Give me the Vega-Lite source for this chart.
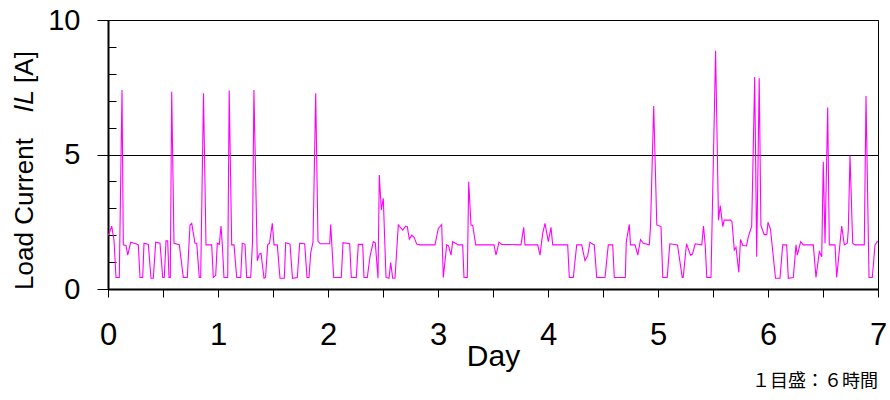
{
  "$schema": "https://vega.github.io/schema/vega-lite/v6.json",
  "width": 770,
  "height": 269,
  "autosize": {"type": "none"},
  "padding": {"left": 108, "top": 20, "right": 12, "bottom": 111},
  "background": "white",
  "config": {
    "view": {"stroke": "black", "strokeWidth": 1},
    "font": "Liberation Sans",
    "axis": {"domainColor": "black", "tickColor": "black", "labelColor": "black", "titleColor": "black", "labelFont": "Liberation Sans", "titleFont": "Liberation Sans", "titleFontWeight": "normal"}
  },
  "title": {"text": "１目盛：６時間", "orient": "bottom", "anchor": "end", "frame": "group", "font": "Noto Sans CJK JP", "fontSize": 18, "fontWeight": "normal", "color": "black", "offset": 2},
  "data": {"values": [
    {"day": 0, "current": 2.0}, {"day": 0.0118, "current": 2.07}, {"day": 0.0336, "current": 2.34}, {"day": 0.0545, "current": 1.82},
    {"day": 0.0727, "current": 0.43}, {"day": 0.1027, "current": 0.43}, {"day": 0.1273, "current": 7.4}, {"day": 0.1391, "current": 1.64},
    {"day": 0.1636, "current": 1.62}, {"day": 0.1791, "current": 1.26}, {"day": 0.2064, "current": 1.74}, {"day": 0.2609, "current": 1.67},
    {"day": 0.2755, "current": 1.64}, {"day": 0.2909, "current": 0.43}, {"day": 0.3155, "current": 0.43}, {"day": 0.3273, "current": 1.7},
    {"day": 0.3664, "current": 1.66}, {"day": 0.3909, "current": 0.4}, {"day": 0.4118, "current": 0.4}, {"day": 0.4336, "current": 1.74},
    {"day": 0.4727, "current": 1.7}, {"day": 0.4973, "current": 0.43}, {"day": 0.5118, "current": 0.43}, {"day": 0.5273, "current": 1.79},
    {"day": 0.5427, "current": 1.79}, {"day": 0.5545, "current": 0.43}, {"day": 0.5664, "current": 0.43}, {"day": 0.5791, "current": 7.33},
    {"day": 0.6, "current": 1.7}, {"day": 0.6482, "current": 1.65}, {"day": 0.6845, "current": 0.43}, {"day": 0.7209, "current": 0.43},
    {"day": 0.7455, "current": 2.38}, {"day": 0.7609, "current": 2.44}, {"day": 0.7909, "current": 1.7}, {"day": 0.8064, "current": 1.7},
    {"day": 0.83, "current": 0.43}, {"day": 0.8427, "current": 0.43}, {"day": 0.8682, "current": 7.28}, {"day": 0.8909, "current": 1.64},
    {"day": 0.9427, "current": 1.64}, {"day": 0.9573, "current": 0.43}, {"day": 0.9791, "current": 0.5}, {"day": 0.9936, "current": 1.7},
    {"day": 1.0118, "current": 1.66}, {"day": 1.0273, "current": 2.34}, {"day": 1.0391, "current": 1.66}, {"day": 1.0545, "current": 0.43},
    {"day": 1.0882, "current": 0.43}, {"day": 1.1018, "current": 7.38}, {"day": 1.1245, "current": 1.64}, {"day": 1.1455, "current": 1.64},
    {"day": 1.17, "current": 0.43}, {"day": 1.2064, "current": 0.43}, {"day": 1.2209, "current": 1.7}, {"day": 1.2455, "current": 1.66},
    {"day": 1.2609, "current": 0.43}, {"day": 1.2973, "current": 0.43}, {"day": 1.3136, "current": 1.72}, {"day": 1.3264, "current": 7.4},
    {"day": 1.3573, "current": 1.05}, {"day": 1.3755, "current": 1.3}, {"day": 1.3909, "current": 1.33}, {"day": 1.4182, "current": 0.4},
    {"day": 1.4318, "current": 0.43}, {"day": 1.4518, "current": 1.64}, {"day": 1.4682, "current": 1.7}, {"day": 1.4936, "current": 2.44},
    {"day": 1.5091, "current": 1.64}, {"day": 1.5391, "current": 1.64}, {"day": 1.5636, "current": 0.4}, {"day": 1.6027, "current": 0.4},
    {"day": 1.6155, "current": 1.72}, {"day": 1.6545, "current": 1.67}, {"day": 1.6773, "current": 0.4}, {"day": 1.7209, "current": 0.43},
    {"day": 1.7427, "current": 1.7}, {"day": 1.7882, "current": 1.68}, {"day": 1.8091, "current": 0.43}, {"day": 1.8273, "current": 0.43},
    {"day": 1.8427, "current": 1.34}, {"day": 1.8636, "current": 1.75}, {"day": 1.8882, "current": 7.28}, {"day": 1.9091, "current": 1.77},
    {"day": 1.93, "current": 1.68}, {"day": 2.0155, "current": 1.68}, {"day": 2.0245, "current": 2.4}, {"day": 2.0518, "current": 0.43},
    {"day": 2.1209, "current": 0.43}, {"day": 2.1364, "current": 1.72}, {"day": 2.1973, "current": 1.68}, {"day": 2.2118, "current": 0.43},
    {"day": 2.2573, "current": 0.43}, {"day": 2.2755, "current": 1.66}, {"day": 2.3155, "current": 1.66}, {"day": 2.3273, "current": 0.43},
    {"day": 2.3573, "current": 0.43}, {"day": 2.3818, "current": 1.2}, {"day": 2.4118, "current": 1.76}, {"day": 2.43, "current": 1.72},
    {"day": 2.4545, "current": 0.4}, {"day": 2.4664, "current": 4.24}, {"day": 2.4845, "current": 2.94}, {"day": 2.5027, "current": 3.37},
    {"day": 2.5273, "current": 0.43}, {"day": 2.5545, "current": 0.4}, {"day": 2.57, "current": 0.98}, {"day": 2.5882, "current": 0.4},
    {"day": 2.6091, "current": 0.4}, {"day": 2.6391, "current": 2.38}, {"day": 2.6791, "current": 2.19}, {"day": 2.7064, "current": 2.34},
    {"day": 2.7209, "current": 2.32}, {"day": 2.7391, "current": 1.85}, {"day": 2.7609, "current": 2.0}, {"day": 2.7818, "current": 1.93},
    {"day": 2.8064, "current": 1.67}, {"day": 2.8364, "current": 1.64}, {"day": 2.9727, "current": 1.64}, {"day": 3.0027, "current": 2.25},
    {"day": 3.0336, "current": 2.39}, {"day": 3.0482, "current": 0.43}, {"day": 3.0791, "current": 1.64}, {"day": 3.0955, "current": 1.6},
    {"day": 3.1182, "current": 1.26}, {"day": 3.1336, "current": 1.76}, {"day": 3.1591, "current": 1.7}, {"day": 3.1845, "current": 1.64},
    {"day": 3.2245, "current": 1.64}, {"day": 3.2364, "current": 0.43}, {"day": 3.2664, "current": 0.43}, {"day": 3.2791, "current": 3.99},
    {"day": 3.3, "current": 2.38}, {"day": 3.3155, "current": 2.36}, {"day": 3.3427, "current": 1.64}, {"day": 3.5091, "current": 1.64},
    {"day": 3.5273, "current": 1.26}, {"day": 3.5545, "current": 1.74}, {"day": 3.5791, "current": 1.66}, {"day": 3.7545, "current": 1.64},
    {"day": 3.7791, "current": 2.29}, {"day": 3.7909, "current": 1.64}, {"day": 3.9064, "current": 1.64}, {"day": 3.9273, "current": 1.26},
    {"day": 3.9518, "current": 2.07}, {"day": 3.9727, "current": 2.44}, {"day": 4.0027, "current": 1.76}, {"day": 4.0273, "current": 2.29},
    {"day": 4.0427, "current": 1.64}, {"day": 4.1791, "current": 1.64}, {"day": 4.1936, "current": 0.43}, {"day": 4.23, "current": 0.43},
    {"day": 4.2609, "current": 1.64}, {"day": 4.3064, "current": 1.64}, {"day": 4.3364, "current": 1.05}, {"day": 4.3609, "current": 1.24},
    {"day": 4.3818, "current": 1.74}, {"day": 4.4, "current": 1.68}, {"day": 4.4209, "current": 1.64}, {"day": 4.4427, "current": 0.43},
    {"day": 4.5182, "current": 0.43}, {"day": 4.5482, "current": 1.64}, {"day": 4.5882, "current": 1.64}, {"day": 4.6027, "current": 0.43},
    {"day": 4.7027, "current": 0.43}, {"day": 4.7118, "current": 1.76}, {"day": 4.7391, "current": 2.4}, {"day": 4.75, "current": 1.64},
    {"day": 4.7909, "current": 1.64}, {"day": 4.8164, "current": 1.26}, {"day": 4.8409, "current": 1.84}, {"day": 4.8664, "current": 1.7},
    {"day": 4.9209, "current": 1.64}, {"day": 4.9318, "current": 2.3}, {"day": 4.9609, "current": 6.8}, {"day": 4.9891, "current": 2.38},
    {"day": 5.0273, "current": 2.32}, {"day": 5.0436, "current": 0.43}, {"day": 5.0836, "current": 0.43}, {"day": 5.1073, "current": 1.68},
    {"day": 5.1773, "current": 1.64}, {"day": 5.22, "current": 0.43}, {"day": 5.2291, "current": 0.43}, {"day": 5.2591, "current": 1.68},
    {"day": 5.2955, "current": 1.26}, {"day": 5.3136, "current": 1.3}, {"day": 5.3382, "current": 1.68}, {"day": 5.3982, "current": 1.64},
    {"day": 5.4136, "current": 2.34}, {"day": 5.4291, "current": 1.64}, {"day": 5.4436, "current": 0.43}, {"day": 5.4818, "current": 0.43},
    {"day": 5.5236, "current": 8.86}, {"day": 5.55, "current": 2.56}, {"day": 5.5655, "current": 3.1}, {"day": 5.5891, "current": 2.32},
    {"day": 5.6018, "current": 2.56}, {"day": 5.6591, "current": 2.56}, {"day": 5.6727, "current": 2.5}, {"day": 5.6936, "current": 1.45},
    {"day": 5.7091, "current": 1.55}, {"day": 5.7345, "current": 0.62}, {"day": 5.75, "current": 1.84}, {"day": 5.7709, "current": 1.62},
    {"day": 5.8045, "current": 1.6}, {"day": 5.8209, "current": 1.94}, {"day": 5.8518, "current": 2.34}, {"day": 5.8791, "current": 7.88},
    {"day": 5.8973, "current": 1.2}, {"day": 5.92, "current": 7.83}, {"day": 5.9355, "current": 2.36}, {"day": 5.9655, "current": 2.02},
    {"day": 5.9891, "current": 2.02}, {"day": 6.0, "current": 2.48}, {"day": 6.0227, "current": 2.22}, {"day": 6.0682, "current": 0.4},
    {"day": 6.1091, "current": 0.4}, {"day": 6.1336, "current": 1.64}, {"day": 6.17, "current": 1.64}, {"day": 6.1845, "current": 0.4},
    {"day": 6.23, "current": 0.43}, {"day": 6.2545, "current": 1.64}, {"day": 6.2664, "current": 1.26}, {"day": 6.2973, "current": 1.76},
    {"day": 6.3209, "current": 1.64}, {"day": 6.4118, "current": 1.64}, {"day": 6.4364, "current": 0.43}, {"day": 6.4664, "current": 1.39},
    {"day": 6.4882, "current": 1.2}, {"day": 6.5027, "current": 4.73}, {"day": 6.5182, "current": 1.7}, {"day": 6.5427, "current": 6.75},
    {"day": 6.5573, "current": 1.64}, {"day": 6.6091, "current": 1.64}, {"day": 6.6245, "current": 0.43}, {"day": 6.67, "current": 2.34},
    {"day": 6.6936, "current": 1.64}, {"day": 6.7209, "current": 1.7}, {"day": 6.73, "current": 2.2}, {"day": 6.7455, "current": 4.96},
    {"day": 6.77, "current": 1.7}, {"day": 6.7909, "current": 1.64}, {"day": 6.8755, "current": 1.64}, {"day": 6.8909, "current": 7.17},
    {"day": 6.9182, "current": 0.43}, {"day": 6.9482, "current": 0.43}, {"day": 6.9727, "current": 1.64}, {"day": 6.9936, "current": 1.76},
    {"day": 7.0, "current": 1.78}
  ]},
  "resolve": {"axis": {"y": "independent"}},
  "layer": [
    {
      "mark": {"type": "line", "color": "#ff00ff", "strokeWidth": 1.1, "clip": true},
      "encoding": {
        "x": {"field": "day", "type": "quantitative", "scale": {"domain": [0, 7], "nice": false},
          "axis": {"values": [0,0.25,0.5,0.75,1,1.25,1.5,1.75,2,2.25,2.5,2.75,3,3.25,3.5,3.75,4,4.25,4.5,4.75,5,5.25,5.5,5.75,6,6.25,6.5,6.75,7],
            "format": ".0f",
            "labelExpr": "datum.value % 1 === 0 ? datum.label : ''", "labelOverlap": false, "labelFlush": false,
            "tickSize": 8, "domainWidth": 2, "labelFontSize": 31, "labelPadding": 23,
            "title": "Day", "titleFontSize": 30, "titlePadding": -9, "grid": false}},
        "y": {"field": "current", "type": "quantitative", "scale": {"domain": [0, 10], "nice": false},
          "axis": {"orient": "left", "values": [0, 5, 10], "tickSize": 11, "grid": true, "gridColor": "black", "gridOpacity": 1, "gridWidth": 1,
            "labelFontSize": 29, "labelPadding": 17, "domainWidth": 2,
            "title": "Load Current\u2003𝐼𝐿 [A]", "titleFontSize": 26, "titlePadding": 10, "titleY": 150}}
      }
    },
    {
      "mark": {"type": "line", "strokeOpacity": 0},
      "encoding": {
        "x": {"field": "day", "type": "quantitative"},
        "y": {"field": "current", "type": "quantitative",
          "axis": {"orient": "left", "values": [1,2,3,4,6,7,8,9], "tickSize": -8, "labels": false, "domain": false, "grid": false, "title": null}}
      }
    }
  ]
}
